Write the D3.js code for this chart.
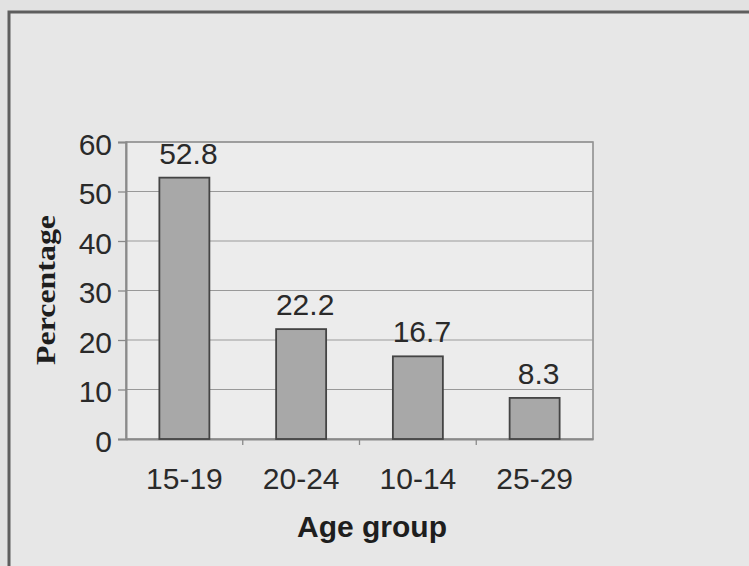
<!DOCTYPE html>
<html>
<head>
<meta charset="utf-8">
<script src="https://cdn.jsdelivr.net/npm/d3@7"></script>
<style>
  html, body { margin: 0; padding: 0; background: #e2e2e2; }
  svg { display: block; }
</style>
</head>
<body>
<svg id="chart" width="749" height="566"></svg>
<script>
const categories = ['15-19', '20-24', '10-14', '25-29'];
const values = [52.8, 22.2, 16.7, 8.3];
const yTicks = [0, 10, 20, 30, 40, 50, 60];

const width = 749;
const height = 566;
const margin = { left: 126, right: 156, top: 142, bottom: 127 };
const lineColor = '#8a8a8a';
const textColor = '#2a2a2a';
const fontSize = 30;

const svg = d3.select('#chart');

// 外框
svg.append('rect')
  .attr('x', 9).attr('y', 12)
  .attr('width', width).attr('height', height)
  .attr('fill', '#e7e7e7')
  .attr('stroke', '#5e5e5e')
  .attr('stroke-width', 3);

const x = d3.scaleBand()
  .domain(categories)
  .range([margin.left, width - margin.right]);

const y = d3.scaleLinear()
  .domain([0, 60])
  .range([height - margin.bottom, margin.top]);

// 绘图区
svg.append('rect')
  .attr('x', margin.left).attr('y', margin.top)
  .attr('width', width - margin.left - margin.right)
  .attr('height', height - margin.top - margin.bottom)
  .attr('fill', '#ececec')
  .attr('stroke', lineColor)
  .attr('stroke-width', 1.5);

// 网格线
svg.append('g')
  .selectAll('line')
  .data(yTicks.slice(1))
  .enter().append('line')
  .attr('x1', margin.left).attr('x2', width - margin.right)
  .attr('y1', d => y(d)).attr('y2', d => y(d))
  .attr('stroke', '#999')
  .attr('stroke-width', 1.2);

// y 轴
const yAxis = d3.axisLeft(y)
  .tickValues(yTicks)
  .tickSize(8)
  .tickPadding(6);
const gy = svg.append('g')
  .attr('transform', `translate(${margin.left},0)`)
  .call(yAxis);
gy.select('.domain').attr('stroke', lineColor).attr('stroke-width', 2);
gy.selectAll('.tick line').attr('stroke', lineColor).attr('stroke-width', 1.3);
gy.selectAll('.tick text')
  .attr('font-family', 'Liberation Sans, Arial, sans-serif')
  .attr('font-size', fontSize)
  .attr('dy', '0.4em')
  .attr('fill', textColor);

// x 轴
const xAxis = d3.axisBottom(x).tickSize(0).tickPadding(29);
const gx = svg.append('g')
  .attr('transform', `translate(0,${y(0)})`)
  .call(xAxis);
gx.select('.domain').attr('stroke', lineColor).attr('stroke-width', 2);
gx.selectAll('.tick text')
  .attr('font-family', 'Liberation Sans, Arial, sans-serif')
  .attr('font-size', fontSize)
  .attr('fill', textColor);

// 分类间刻度
svg.append('g')
  .selectAll('line')
  .data(categories.slice(1))
  .enter().append('line')
  .attr('x1', d => x(d)).attr('x2', d => x(d))
  .attr('y1', y(0)).attr('y2', y(0) + 6)
  .attr('stroke', lineColor)
  .attr('stroke-width', 1.3);

// 柱子
const barW = 50;
svg.append('g')
  .selectAll('rect')
  .data(values)
  .enter().append('rect')
  .attr('x', (d, i) => x(categories[i]) + x.bandwidth() / 2 - barW / 2)
  .attr('y', d => y(d))
  .attr('width', barW)
  .attr('height', d => y(0) - y(d))
  .attr('fill', '#a8a8a8')
  .attr('stroke', '#444')
  .attr('stroke-width', 1.8);

// 数值标签
svg.append('g')
  .selectAll('text')
  .data(values)
  .enter().append('text')
  .attr('x', (d, i) => x(categories[i]) + x.bandwidth() / 2 + 4)
  .attr('y', d => y(d) - 14)
  .attr('text-anchor', 'middle')
  .attr('font-family', 'Liberation Sans, Arial, sans-serif')
  .attr('font-size', fontSize)
  .attr('fill', textColor)
  .text(d => d);

// 轴标题
svg.append('text')
  .attr('x', 372)
  .attr('y', 537)
  .attr('text-anchor', 'middle')
  .attr('font-family', 'Liberation Sans, Arial, sans-serif')
  .attr('font-weight', 'bold')
  .attr('font-size', 30)
  .attr('fill', '#1e1e1e')
  .text('Age group');

svg.append('text')
  .attr('transform', 'translate(55,290) rotate(-90)')
  .attr('text-anchor', 'middle')
  .attr('font-family', 'Liberation Serif, Times New Roman, serif')
  .attr('font-weight', 'bold')
  .attr('font-size', 28)
  .attr('textLength', 150)
  .attr('lengthAdjust', 'spacingAndGlyphs')
  .attr('fill', '#1e1e1e')
  .text('Percentage');
</script>
</body>
</html>
